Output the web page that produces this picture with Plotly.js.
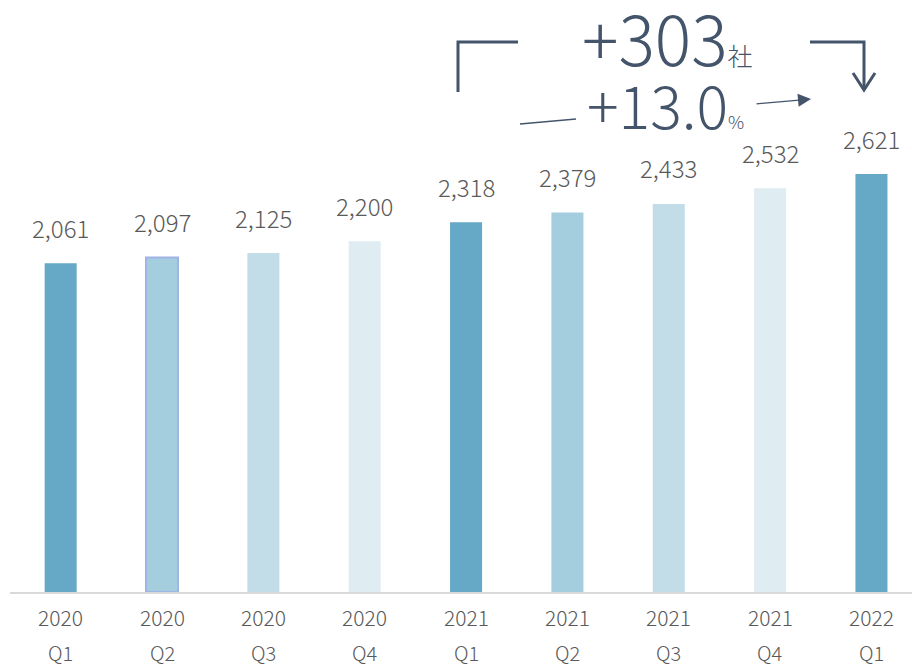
<!DOCTYPE html>
<html>
<head>
<meta charset="utf-8">
<script src="https://cdn.plot.ly/plotly-3.0.1.min.js"></script>
<style>
  html, body { margin: 0; padding: 0; background: #fff; }
  #chart { width: 912px; height: 666px; }
</style>
</head>
<body>
<div id="chart"></div>
<script>
// data
var years = ['2020', '2020', '2020', '2020', '2021', '2021', '2021', '2021', '2022'];
var quarters = ['Q1', 'Q2', 'Q3', 'Q4', 'Q1', 'Q2', 'Q3', 'Q4', 'Q1'];
var companies = [2061, 2097, 2125, 2200, 2318, 2379, 2433, 2532, 2621];
var growthCount = '+303';
var growthRate = '+13.0';

var quarterColors = { Q1: '#65a9c6', Q2: '#a4cddd', Q3: '#c2dde8', Q4: '#dfecf2' };
var labelColor = '#595959';
var noteColor = '#44546a';
var font = '"Noto Sans CJK JP", "Noto Sans", sans-serif';

var cats = years.map(function (y, i) { return y + ' ' + quarters[i]; });

// plot area is 10..912 px wide, 0..592 px high
function px(x) { return (x - 10) / 902; }
function py(y) { return (592 - y) / 592; }

var trace = {
    type: 'bar',
    x: cats,
    y: companies,
    width: 0.316,
    marker: {
        color: quarters.map(function (q) { return quarterColors[q]; }),
        line: {
            color: cats.map(function (c, i) { return i == 1 ? '#9fb5e5' : 'rgba(0,0,0,0)'; }),
            width: cats.map(function (c, i) { return i == 1 ? 2 : 0; })
        }
    },
    hoverinfo: 'none'
};

var annotations = [];
cats.forEach(function (c, i) {
    annotations.push({
        x: c, y: companies[i], xref: 'x', yref: 'y',
        text: companies[i].toLocaleString('en-US'),
        showarrow: false, yanchor: 'middle', yshift: 36,
        font: { family: font, size: 24, weight: 300, color: labelColor }
    });
    annotations.push({
        x: c, y: 0, xref: 'x', yref: 'paper',
        text: years[i], showarrow: false, yanchor: 'middle', yshift: -25,
        font: { family: font, size: 21, weight: 300, color: labelColor }
    });
    annotations.push({
        x: c, y: 0, xref: 'x', yref: 'paper',
        text: quarters[i], showarrow: false, yanchor: 'middle', yshift: -60,
        font: { family: font, size: 20, weight: 300, color: labelColor }
    });
});

// growth callout
annotations.push({
    x: px(667), y: py(36), xref: 'paper', yref: 'paper',
    text: growthCount + '<span style="font-size:25px">社</span>',
    showarrow: false, xanchor: 'center', yanchor: 'middle',
    font: { family: font, size: 68, weight: 300, color: noteColor }
});
annotations.push({
    x: px(665), y: py(103), xref: 'paper', yref: 'paper',
    text: growthRate + '<span style="font-size:18px">%</span>',
    showarrow: false, xanchor: 'center', yanchor: 'middle',
    font: { family: font, size: 59, weight: 300, color: noteColor }
});
annotations.push({
    x: px(811), y: py(99), xref: 'paper', yref: 'paper',
    ax: -56, ay: 5, text: '', showarrow: true,
    arrowhead: 2, arrowsize: 2, arrowwidth: 1.3, arrowcolor: noteColor
});

var shapes = [
    {
        type: 'path', xref: 'paper', yref: 'paper',
        path: 'M' + px(458) + ',' + py(92) + ' L' + px(458) + ',' + py(42) + ' L' + px(518) + ',' + py(42),
        line: { color: noteColor, width: 3 }
    },
    {
        type: 'path', xref: 'paper', yref: 'paper',
        path: 'M' + px(810) + ',' + py(42) + ' L' + px(864) + ',' + py(42) + ' L' + px(864) + ',' + py(90),
        line: { color: noteColor, width: 3 }
    },
    {
        type: 'path', xref: 'paper', yref: 'paper',
        path: 'M' + px(853) + ',' + py(73) + ' L' + px(864) + ',' + py(90) + ' L' + px(875) + ',' + py(73),
        line: { color: noteColor, width: 3 }
    },
    {
        type: 'line', xref: 'paper', yref: 'paper',
        x0: px(520), y0: py(124), x1: px(576), y1: py(119),
        line: { color: noteColor, width: 1.3 }
    }
];

var layout = {
    width: 912,
    height: 666,
    margin: { l: 10, r: 0, t: 0, b: 74 },
    paper_bgcolor: '#ffffff',
    plot_bgcolor: '#ffffff',
    showlegend: false,
    bargap: 0,
    xaxis: {
        type: 'category',
        range: [-0.5, 8.4],
        showticklabels: false,
        ticks: '',
        showgrid: false,
        zeroline: false,
        showline: true,
        linecolor: '#d9d9d9',
        linewidth: 1.5,
        fixedrange: true
    },
    yaxis: {
        range: [0, 3712],
        visible: false,
        showgrid: false,
        zeroline: false,
        fixedrange: true
    },
    annotations: annotations,
    shapes: shapes
};

Plotly.newPlot('chart', [trace], layout, { displayModeBar: false, staticPlot: true });
</script>
</body>
</html>
